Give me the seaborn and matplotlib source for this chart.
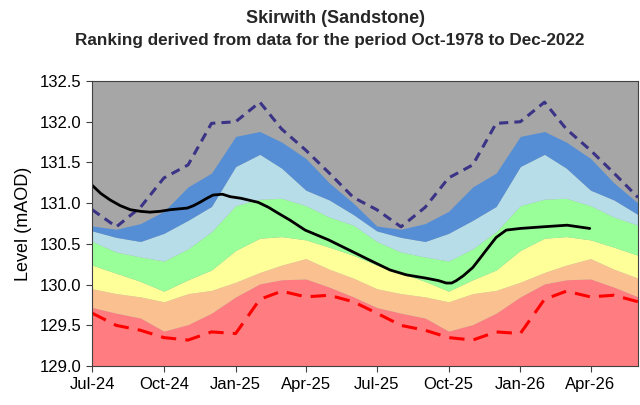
import matplotlib
matplotlib.use('Agg')
import matplotlib.pyplot as plt
import matplotlib.dates as mdates
import pandas as pd
import seaborn as sns

# monthly ranking bands (mAOD), Jul-24 .. Jun-26
months = pd.date_range("2024-07-01", periods=24, freq="MS")

band_blue_top = [130.72, 130.68, 130.75, 130.90, 131.20, 131.37, 131.82, 131.88, 131.75, 131.55, 131.25, 131.00,
                 130.72, 130.68, 130.75, 130.90, 131.20, 131.37, 131.82, 131.88, 131.75, 131.55, 131.25, 131.00]
band_lblue_top = [130.66, 130.58, 130.53, 130.63, 130.79, 130.96, 131.45, 131.60, 131.43, 131.16, 131.04, 130.86,
                  130.66, 130.58, 130.53, 130.63, 130.79, 130.96, 131.45, 131.60, 131.43, 131.16, 131.04, 130.86]
band_green_top = [130.53, 130.40, 130.34, 130.29, 130.44, 130.65, 130.97, 131.05, 131.06, 130.97, 130.83, 130.73,
                  130.53, 130.40, 130.34, 130.29, 130.44, 130.65, 130.97, 131.05, 131.06, 130.97, 130.83, 130.73]
band_yellow_top = [130.24, 130.14, 130.04, 129.92, 130.06, 130.18, 130.42, 130.57, 130.59, 130.55, 130.46, 130.36,
                   130.24, 130.14, 130.04, 129.92, 130.06, 130.18, 130.42, 130.57, 130.59, 130.55, 130.46, 130.36]
band_orange_top = [129.95, 129.89, 129.85, 129.79, 129.89, 129.93, 130.03, 130.15, 130.24, 130.32, 130.19, 130.08,
                   129.95, 129.89, 129.85, 129.79, 129.89, 129.93, 130.03, 130.15, 130.24, 130.32, 130.19, 130.08]
band_red_top = [129.72, 129.65, 129.59, 129.43, 129.51, 129.65, 129.85, 130.01, 130.06, 130.07, 129.97, 129.85,
                129.72, 129.65, 129.59, 129.43, 129.51, 129.65, 129.85, 130.01, 130.06, 130.07, 129.97, 129.85]

max_level = [130.92, 130.71, 130.95, 131.31, 131.47, 131.98, 132.00, 132.24, 131.91, 131.65, 131.37, 131.07,
             130.92, 130.71, 130.95, 131.31, 131.47, 131.98, 132.00, 132.24, 131.91, 131.65, 131.37, 131.07]
min_level = [129.65, 129.50, 129.44, 129.35, 129.32, 129.42, 129.40, 129.82, 129.92, 129.85, 129.87, 129.79,
             129.65, 129.50, 129.44, 129.35, 129.32, 129.42, 129.40, 129.82, 129.92, 129.85, 129.87, 129.79]

# observed level
level_dates = ["2024-07-01", "2024-07-12", "2024-07-24", "2024-08-06", "2024-08-19", "2024-09-01",
               "2024-09-13", "2024-09-26", "2024-10-09", "2024-10-20", "2024-10-31", "2024-11-08",
               "2024-11-16", "2024-11-25", "2024-12-03", "2024-12-15", "2024-12-25", "2025-01-08",
               "2025-01-30", "2025-02-12", "2025-02-24", "2025-03-12", "2025-03-31", "2025-04-30",
               "2025-06-03", "2025-06-22", "2025-07-18", "2025-08-08", "2025-09-02", "2025-09-18",
               "2025-09-28", "2025-10-05", "2025-10-11", "2025-10-20", "2025-11-01", "2025-11-10",
               "2025-11-18", "2025-12-01", "2025-12-14", "2026-01-01", "2026-01-30", "2026-03-02",
               "2026-03-31"]
level_values = [131.22, 131.12, 131.04, 130.97, 130.92, 130.90,
                130.89, 130.90, 130.92, 130.93, 130.94, 130.97,
                131.01, 131.06, 131.10, 131.11, 131.08, 131.06,
                131.01, 130.95, 130.88, 130.79, 130.67, 130.55,
                130.39, 130.30, 130.18, 130.12, 130.08, 130.05,
                130.02, 130.02, 130.05, 130.11, 130.21, 130.32,
                130.42, 130.58, 130.67, 130.69, 130.71, 130.73,
                130.69]

sns.set_theme(style="white")
plt.rcParams['font.family'] = ['Liberation Sans', 'DejaVu Sans']

fig = plt.figure(figsize=(6.4, 4.05), dpi=100)
ax = fig.add_axes([0.144, 0.096, 0.853, 0.704])
ax.set_facecolor('#A6A6A6')

bottom = [129.0] * len(months)
bands = [
    (bottom, band_red_top, '#FF7C80'),
    (band_red_top, band_orange_top, '#FAC090'),
    (band_orange_top, band_yellow_top, '#FFFF99'),
    (band_yellow_top, band_green_top, '#99FF99'),
    (band_green_top, band_lblue_top, '#B7DDE8'),
    (band_lblue_top, band_blue_top, '#558ED5'),
]
for lo, hi, col in bands:
    ax.fill_between(months, lo, hi, color=col, linewidth=0)

sns.lineplot(x=months, y=max_level, ax=ax, color='#3B3486', linewidth=2.2,
             linestyle=(0, (3, 2)))
sns.lineplot(x=months, y=min_level, ax=ax, color='#FF0000', linewidth=2.2,
             linestyle=(0, (5, 3)))
sns.lineplot(x=pd.to_datetime(level_dates), y=level_values, ax=ax, color='black',
             linewidth=2, solid_joinstyle='round')

ax.set_xlim(pd.Timestamp("2024-07-01"), pd.Timestamp("2026-06-01"))
ax.set_ylim(129.0, 132.5)
ax.set_yticks([129.0, 129.5, 130.0, 130.5, 131.0, 131.5, 132.0, 132.5])
ax.yaxis.set_major_formatter(matplotlib.ticker.FormatStrFormatter('%.1f'))
ax.xaxis.set_major_locator(mdates.MonthLocator(bymonth=[1, 4, 7, 10]))
ax.xaxis.set_major_formatter(mdates.DateFormatter('%b-%y'))
ax.tick_params(axis='both', which='major', direction='out', length=4, width=0.8,
               color='#404040', labelsize=12, labelcolor='black', left=True, bottom=True)
ax.set_ylabel('Level (mAOD)', fontsize=13, color='black', labelpad=6)
ax.set_xlabel('')
for s in ax.spines.values():
    s.set_color('#404040')
    s.set_linewidth(0.8)

fig.text(0.525, 0.955, 'Skirwith (Sandstone)', ha='center', va='center',
         fontsize=13, fontweight='bold')
fig.text(0.515, 0.9, 'Ranking derived from data for the period Oct-1978 to Dec-2022',
         ha='center', va='center', fontsize=12.3, fontweight='bold')

fig.savefig('out.png', dpi=100)
